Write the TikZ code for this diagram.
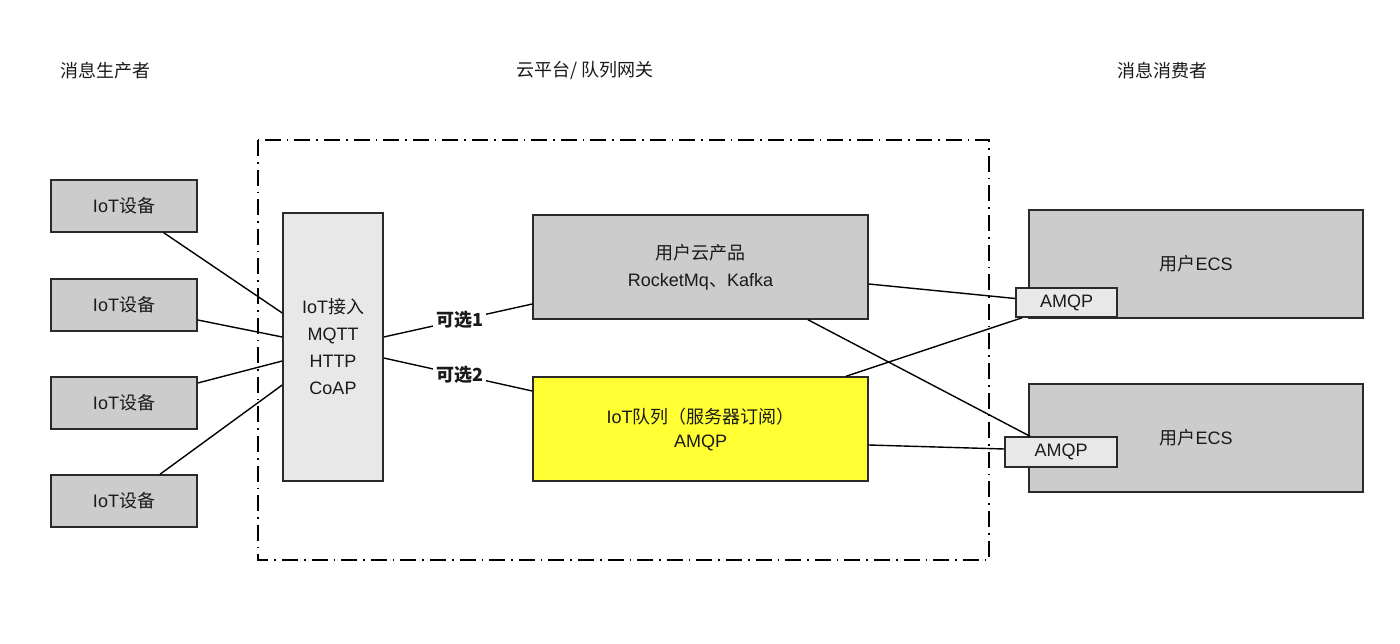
\documentclass[tikz,border=0pt]{standalone}
\usepackage{fontspec}
\setmainfont{Liberation Sans}
\newfontfamily\cjk{Noto Sans CJK SC}
\definecolor{boxgray}{HTML}{CCCCCC}
\definecolor{lightbox}{HTML}{E8E8E8}
\definecolor{ybox}{HTML}{FFFF33}
\definecolor{edge}{HTML}{2A2A2A}
\definecolor{txt}{HTML}{1A1A1A}
\begin{document}
\begin{tikzpicture}[x=1pt,y=-1pt,
  every node/.style={text=txt,font=\fontsize{18}{26}\selectfont},
  box/.style={draw=edge,line width=1.5pt,fill=boxgray,inner sep=0pt,align=center},
  devbox/.style={box,minimum width=146pt,minimum height=52pt},
  lightnode/.style={box,fill=lightbox},
  wire/.style={draw=black,line width=1.4pt},
  optlabel/.style={fill=white,inner sep=3pt,font=\fontsize{18}{20}\selectfont\bfseries},
  header/.style={font=\fontsize{18}{20}\selectfont}
]
\useasboundingbox (0,0) rectangle (1400,644);
\fill[white] (0,0) rectangle (1400,644);

% frame
\draw[line width=1.4pt,dash pattern=on 16pt off 6pt on 1.6pt off 6pt] (258,140) rectangle (989,560);

% headers
\node[header] (h1) at (105,71) {\cjk 消息生产者};
\node[header] (h2) at (585,71) {\cjk 云平台/ 队列网关};
\node[header] (h3) at (1162,71) {\cjk 消息消费者};

% devices
\node[devbox] (dev1) at (124,206) {IoT{\cjk 设备}};
\node[devbox] (dev2) at (124,305) {IoT{\cjk 设备}};
\node[devbox] (dev3) at (124,403) {IoT{\cjk 设备}};
\node[devbox] (dev4) at (124,501) {IoT{\cjk 设备}};

% gateway
\node[lightnode,minimum width=100pt,minimum height=268pt,font=\fontsize{18}{27}\selectfont] (gw) at (333,347) {IoT{\cjk 接入}\\MQTT\\HTTP\\CoAP};

% middle
\node[box,minimum width=335pt,minimum height=104pt,font=\fontsize{18}{27}\selectfont] (cloud) at (700.5,267) {{\cjk 用户云产品}\\RocketMq{\cjk 、}Kafka};
\node[box,fill=ybox,minimum width=335pt,minimum height=104pt,font=\fontsize{18}{24}\selectfont] (queue) at (700.5,429) {IoT{\cjk 队列（服务器订阅）}\\AMQP};

% consumers
\node[box,minimum width=334pt,minimum height=108pt] (ecs1) at (1196,264) {{\cjk 用户}ECS};
\node[box,minimum width=334pt,minimum height=108pt] (ecs2) at (1196,438) {{\cjk 用户}ECS};
\node[lightnode,minimum width=101pt,minimum height=29pt] (amqp1) at (1066.5,302.5) {AMQP};
\node[lightnode,minimum width=112pt,minimum height=30pt] (amqp2) at (1061,452) {AMQP};

% device wires
\draw[wire] ([xshift=-34pt]dev1.south east) -- ([yshift=34pt]gw.west);
\draw[wire] ([yshift=-15pt]dev2.east) -- ([yshift=10pt]gw.west);
\draw[wire] ([yshift=20pt]dev3.east) -- ([yshift=-14pt]gw.west);
\draw[wire] ([xshift=36pt]dev4.north) -- ([yshift=-38pt]gw.west);

% options
\draw[wire] ([yshift=10pt]gw.east) -- node[optlabel,pos=0.51] (o1) {\cjk 可选1} ([yshift=-37pt]cloud.west);
\draw[wire] ([yshift=-11pt]gw.east) -- node[optlabel,pos=0.51] (o2) {\cjk 可选2} ([yshift=38pt]queue.west);

% consumer wires
\draw[wire] ([yshift=-17pt]cloud.east) -- ([yshift=4pt]amqp1.west);
\draw[wire] ([xshift=107.5pt]cloud.south) -- ([xshift=-31pt]amqp2.north);
\draw[wire] ([xshift=145.5pt]queue.north) -- ([xshift=7pt]amqp1.south west);
\draw[wire] ([yshift=-16pt]queue.east) -- ([yshift=3pt]amqp2.west);
\end{tikzpicture}
\end{document}
